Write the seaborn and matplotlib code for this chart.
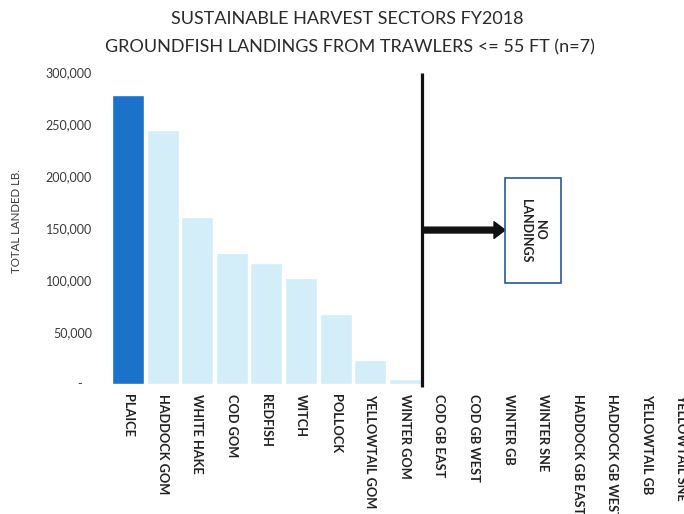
import matplotlib
matplotlib.use("Agg")
import matplotlib.pyplot as plt
import matplotlib.ticker as mticker
from matplotlib.patches import Rectangle
import seaborn as sns

# Groundfish stocks, in chart order
categories = [
    "PLAICE", "HADDOCK GOM", "WHITE HAKE", "COD GOM", "REDFISH", "WITCH",
    "POLLOCK", "YELLOWTAIL GOM", "WINTER GOM", "COD GB EAST", "COD GB WEST",
    "WINTER GB", "WINTER SNE", "HADDOCK GB EAST", "HADDOCK GB WEST",
    "YELLOWTAIL GB", "YELLOWTAIL SNE",
]
# Total landed pounds per stock (stocks after WINTER GOM had no landings)
landed_lb = [
    278000, 245000, 161000, 125500, 116500, 101500,
    67000, 22300, 4600, 0, 0,
    0, 0, 0, 0,
    0, 0,
]
y_ticks = [0, 50000, 100000, 150000, 200000, 250000, 300000]

title_lines = [
    "SUSTAINABLE HARVEST SECTORS FY2018",
    "GROUNDFISH LANDINGS FROM TRAWLERS <= 55 FT (n=7)",
]
y_label = "TOTAL LANDED LB."
note_text = "NO\nLANDINGS"

sns.set_theme(style="white")
plt.rcParams["font.family"] = ["Lato", "DejaVu Sans"]

W, H = 684, 514
fig = plt.figure(figsize=(W / 100, H / 100), dpi=100)
fig.patch.set_facecolor("white")

left_px, zero_px, top_px = 110.7, 383.5, 72.5
ax = fig.add_axes([left_px / W, (H - zero_px) / H,
                   (W - left_px) / W, (zero_px - top_px) / H])

top_color = "#1A72C9"
rest_color = "#D3EEF8"
palette = [top_color] + [rest_color] * (len(categories) - 1)

sns.barplot(x=categories, y=landed_lb, hue=categories, palette=palette,
            legend=False, width=0.925, saturation=1, ax=ax)

ax.set_xlim(-0.5, 16.07)
ax.set_ylim(0, 300000)
ax.set_yticks(y_ticks)
ax.yaxis.set_major_formatter(mticker.FuncFormatter(
    lambda v, _: "-   " if v == 0 else f"{v:,.0f}"))
ax.tick_params(axis="y", length=0, pad=13.5, labelsize=9, labelcolor="#3a3a3a")
ax.tick_params(axis="x", length=0, pad=7.5)
ax.set_xticks(range(len(categories)))
ax.set_xticklabels(categories, rotation=-90, ha="center", va="top",
                   fontsize=9.2, fontweight="bold", color="#222222")
ax.set_xlabel("")
ax.set_ylabel("")
for s in ax.spines.values():
    s.set_visible(False)

# Divider between stocks with and without landings
ax.plot([8.5, 8.5], [-3000, 300000], color="#111111", lw=2.3,
        solid_capstyle="butt", clip_on=False)

# Arrow pointing to the no-landings note
ax.annotate("", xy=(10.9, 148000), xytext=(8.5, 148000),
            arrowprops=dict(width=4.2, headwidth=12, headlength=8,
                            facecolor="#111111", edgecolor="#111111", shrink=0))

box = Rectangle((10.9, 97000), 1.62, 101500, facecolor="white",
                edgecolor="#2B5A8C", lw=1.2, zorder=5)
ax.add_patch(box)
ax.text(10.9 + 0.81, 147750, note_text, rotation=-90, ha="center", va="center",
        multialignment="center", fontsize=9, fontweight="bold",
        color="#222222", zorder=6)

fig.text(347 / W, 1 - 19 / H, title_lines[0], ha="center", va="center",
         fontsize=13, color="#2a2a2a")
fig.text(350 / W, 1 - 47 / H, title_lines[1], ha="center", va="center",
         fontsize=13, color="#2a2a2a")
fig.text(17 / W, 1 - 221 / H, y_label, rotation=90, ha="center", va="center",
         fontsize=8.3, color="#3a3a3a")

fig.savefig("out.png", dpi=100, facecolor="white")
